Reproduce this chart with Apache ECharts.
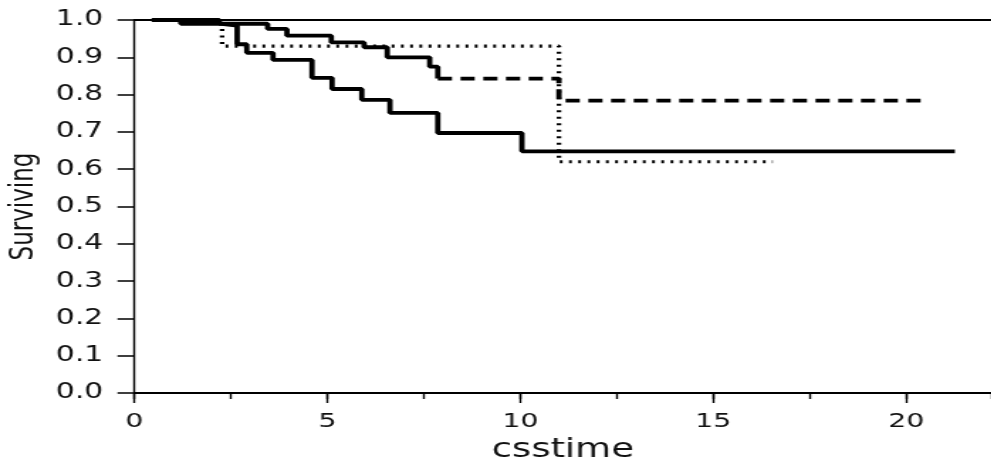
<!DOCTYPE html>
<html>
<head>
<meta charset="utf-8">
<title>Surviving vs csstime</title>
<script src="https://cdn.jsdelivr.net/npm/echarts@6/dist/echarts.min.js"></script>
<style>
  html, body { margin: 0; padding: 0; background: #fff; overflow: hidden; }
  /* the original picture is stretched sideways, so the chart is drawn narrow and widened */
  #chart { width: 698px; height: 461px; transform: scaleX(1.42); transform-origin: 0 0; }
</style>
</head>
<body>
<div id="chart"></div>
<script>
// group 1 (solid)
const solidTime = [0.45, 1.2, 2.2, 2.66, 2.91, 3.59, 4.6, 5.12, 5.89, 6.62, 7.86, 10.04, 21.26]
const solidSurv = [1.0, 0.99, 0.985, 0.935, 0.912, 0.893, 0.845, 0.815, 0.786, 0.751, 0.697, 0.648, 0.648]
// group 2 (dashed, dense steps before 7.86 look solid)
const dashTime = [0.45, 2.2, 3.45, 3.95, 5.1, 5.95, 6.55, 7.65, 7.86, 11.0, 20.53]
const dashSurv = [1.0, 0.99, 0.976, 0.958, 0.94, 0.927, 0.9, 0.875, 0.843, 0.784, 0.784]
const dashSolidUntil = 7.86
// group 3 (dotted)
const dotTime = [0.45, 2.27, 11.0, 16.54]
const dotSurv = [1.0, 0.93, 0.62, 0.62]

const yTicks = [0, 0.1, 0.2, 0.3, 0.4, 0.5, 0.6, 0.7, 0.8, 0.9, 1.0]
const xTicks = [0, 5, 10, 15, 20]
const xMax = 22.2

const pairs = (t, s) => t.map((v, i) => [v, s[i]])
const dashAll = pairs(dashTime, dashSurv)
const cut = dashTime.indexOf(dashSolidUntil)

const myChart = echarts.init(document.getElementById('chart'))

const baseLine = (name, data, style) => ({
  name,
  type: 'line',
  step: 'end',
  data,
  showSymbol: false,
  symbol: 'none',
  silent: true,
  lineStyle: Object.assign({ color: '#000', width: 3.8 }, style)
})

const frameAxis = (extra) => Object.assign({
  type: 'value',
  min: 0,
  max: xMax,
  axisLabel: { show: false },
  splitLine: { show: false }
}, extra)

const option = {
  animation: false,
  textStyle: { fontFamily: 'DejaVu Sans' },
  grid: { left: 94.7, right: 0, top: 20, bottom: 68, containLabel: false, outerBoundsMode: 'none' },
  xAxis: [
    {
      type: 'value',
      position: 'bottom',
      min: 0,
      max: xMax,
      interval: 5,
      name: 'csstime',
      nameLocation: 'middle',
      nameGap: 37,
      nameTextStyle: { fontSize: 26, color: '#111', fontFamily: 'DejaVu Sans' },
      axisLine: { show: true, lineStyle: { color: '#000', width: 1.8 } },
      axisTick: { show: true, length: 10, lineStyle: { color: '#000', width: 1.4 } },
      axisLabel: {
        fontSize: 20,
        color: '#111',
        margin: 19,
        showMaxLabel: false,
        formatter: v => (xTicks.includes(v) ? String(v) : '')
      },
      splitLine: { show: false }
    },
    // short ticks halfway between the labelled ones
    frameAxis({
      position: 'bottom',
      interval: 2.5,
      axisLine: { show: false },
      axisTick: { show: true, length: 6, lineStyle: { color: '#000', width: 1.4 } }
    }),
    // top frame line
    frameAxis({
      position: 'top',
      interval: 5,
      axisLine: { show: true, lineStyle: { color: '#000', width: 1.8 } },
      axisTick: { show: false }
    })
  ],
  yAxis: {
    type: 'value',
    min: 0,
    max: 1,
    interval: 0.1,
    name: 'Surviving',
    nameLocation: 'middle',
    nameGap: 64,
    nameTextStyle: { fontSize: 23, color: '#111', fontFamily: 'DejaVu Sans' },
    axisLine: { show: true, lineStyle: { color: '#000', width: 1.4 } },
    axisTick: { show: true, length: 12, lineStyle: { color: '#000', width: 1.5 } },
    axisLabel: {
      fontSize: 21,
      color: '#111',
      margin: 22,
      formatter: v => {
        const t = yTicks.find(k => Math.abs(k - v) < 1e-6)
        return t === undefined ? '' : t.toFixed(1)
      }
    },
    splitLine: { show: false }
  },
  series: [
    baseLine('group 1', pairs(solidTime, solidSurv), {}),
    baseLine('group 2', dashAll.slice(0, cut + 1), {}),
    baseLine('group 2 ', dashAll.slice(cut), { type: [10, 6] }),
    baseLine('group 3', pairs(dotTime, dotSurv), { width: 3.2, type: [2, 4.5] })
  ]
}

myChart.setOption(option)
window.addEventListener('resize', () => myChart.resize())
</script>
</body>
</html>
